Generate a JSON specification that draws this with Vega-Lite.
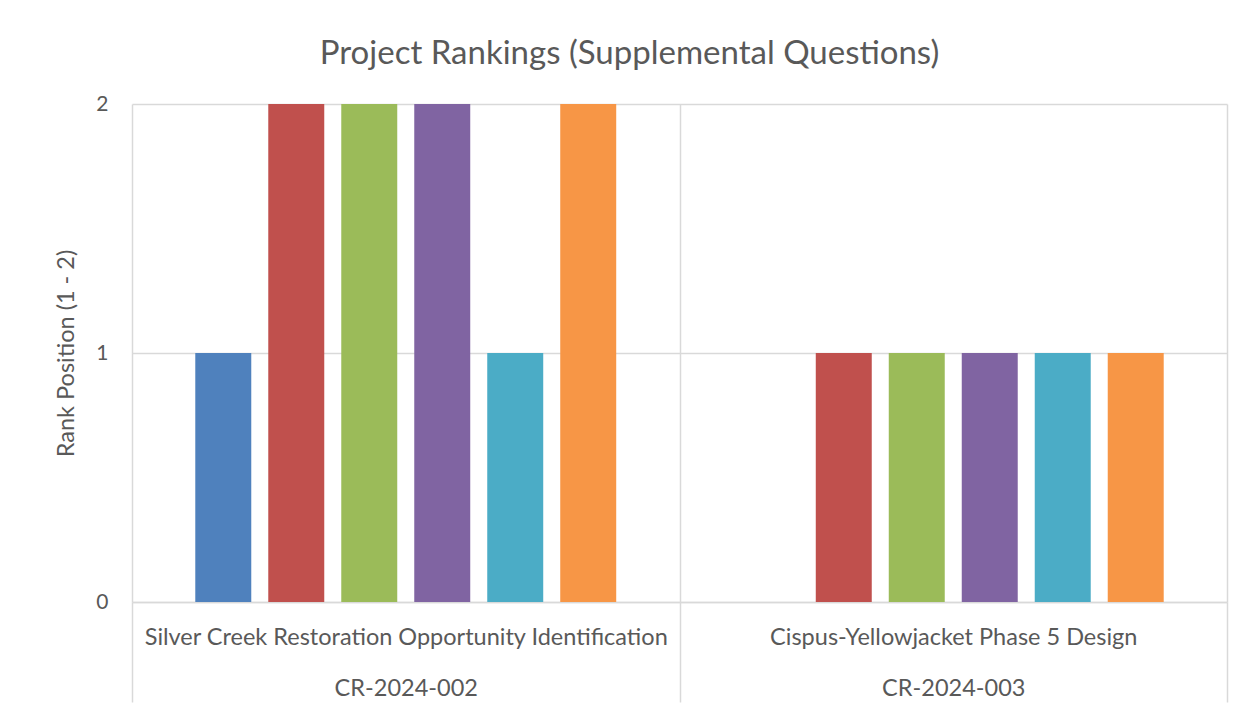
{
  "$schema": "https://vega.github.io/schema/vega-lite/v6.json",
  "width": 1095,
  "height": 498,
  "autosize": {"type": "none"},
  "padding": {"left": 132, "top": 104, "right": 24, "bottom": 109},
  "background": "white",
  "title": {
    "text": "Project Rankings (Supplemental Questions)",
    "font": "Lato",
    "fontSize": 33,
    "fontWeight": "normal",
    "color": "#595959",
    "anchor": "middle",
    "dx": -50,
    "offset": 22
  },
  "data": {
    "values": [
      {"project": "Silver Creek Restoration Opportunity Identification|CR-2024-002", "series": "Reviewer 1", "rank": 1},
      {"project": "Silver Creek Restoration Opportunity Identification|CR-2024-002", "series": "Reviewer 2", "rank": 2},
      {"project": "Silver Creek Restoration Opportunity Identification|CR-2024-002", "series": "Reviewer 3", "rank": 2},
      {"project": "Silver Creek Restoration Opportunity Identification|CR-2024-002", "series": "Reviewer 4", "rank": 2},
      {"project": "Silver Creek Restoration Opportunity Identification|CR-2024-002", "series": "Reviewer 5", "rank": 1},
      {"project": "Silver Creek Restoration Opportunity Identification|CR-2024-002", "series": "Reviewer 6", "rank": 2},
      {"project": "Cispus-Yellowjacket Phase 5 Design|CR-2024-003", "series": "Reviewer 1", "rank": 0},
      {"project": "Cispus-Yellowjacket Phase 5 Design|CR-2024-003", "series": "Reviewer 2", "rank": 1},
      {"project": "Cispus-Yellowjacket Phase 5 Design|CR-2024-003", "series": "Reviewer 3", "rank": 1},
      {"project": "Cispus-Yellowjacket Phase 5 Design|CR-2024-003", "series": "Reviewer 4", "rank": 1},
      {"project": "Cispus-Yellowjacket Phase 5 Design|CR-2024-003", "series": "Reviewer 5", "rank": 1},
      {"project": "Cispus-Yellowjacket Phase 5 Design|CR-2024-003", "series": "Reviewer 6", "rank": 1}
    ]
  },
  "mark": {"type": "bar"},
  "encoding": {
    "x": {
      "field": "project",
      "type": "nominal",
      "sort": null,
      "scale": {"paddingInner": 0, "paddingOuter": 0},
      "axis": {
        "title": null,
        "labelAngle": 0,
        "labelExpr": "split(datum.label, '|')",
        "labelFont": "Lato",
        "labelFontSize": 23.5,
        "labelColor": "#595959",
        "labelLineHeight": 51,
        "labelBaseline": "top",
        "labelPadding": -77,
        "labelLimit": 1000,
        "tickBand": "extent",
        "ticks": true,
        "tickSize": 100,
        "tickColor": "#d9d9d9",
        "tickWidth": 1.5,
        "grid": true,
        "gridColor": "#d9d9d9",
        "gridWidth": 1.5,
        "domainColor": "#d9d9d9",
        "domainWidth": 1.5
      }
    },
    "xOffset": {
      "field": "series",
      "type": "nominal",
      "scale": {"paddingInner": 0.233, "paddingOuter": 0.867}
    },
    "y": {
      "field": "rank",
      "type": "quantitative",
      "scale": {"domain": [0, 2], "nice": false},
      "axis": {
        "title": "Rank Position (1 - 2)",
        "titleFont": "Lato",
        "titleFontSize": 23.5,
        "titleFontWeight": "normal",
        "titleColor": "#595959",
        "titlePadding": 17,
        "tickCount": 2,
        "format": "d",
        "labelFont": "Lato",
        "labelFontSize": 21,
        "labelColor": "#595959",
        "labelPadding": 24,
        "labelOverlap": false,
        "ticks": false,
        "domain": false,
        "grid": true,
        "gridColor": "#d9d9d9",
        "gridWidth": 1.5
      }
    },
    "color": {
      "field": "series",
      "type": "nominal",
      "scale": {"range": ["#4F81BD", "#C0504D", "#9BBB59", "#8064A2", "#4BACC6", "#F79646"]},
      "legend": null
    }
  },
  "config": {"view": {"stroke": null}}
}
